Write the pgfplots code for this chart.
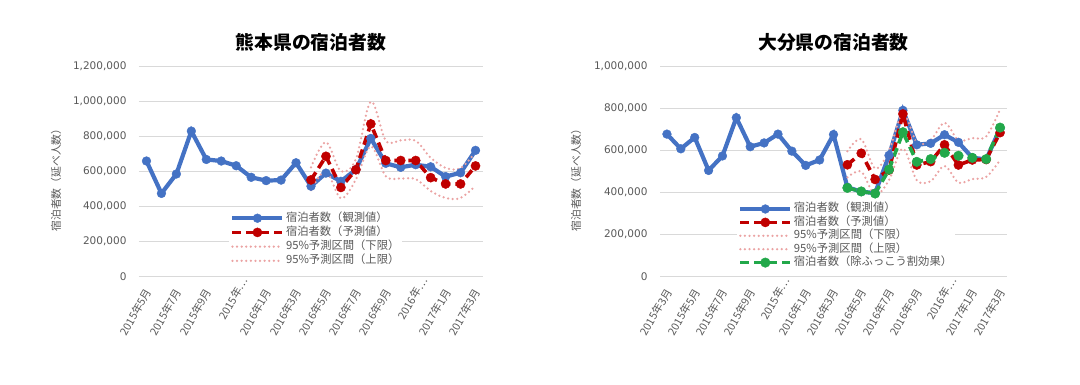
\documentclass[border=0pt]{standalone}
\usepackage{fontspec}
\setmainfont{Noto Sans CJK JP}
\newfontfamily\dv{DejaVu Sans}
\usepackage{pgfplots}
\pgfplotsset{compat=1.18}
\definecolor{cblue}{HTML}{4472C4}
\definecolor{cred}{HTML}{C00000}
\definecolor{cpink}{HTML}{EBA3A3}
\definecolor{cgreen}{HTML}{22A84A}
\definecolor{cgrid}{HTML}{D9D9D9}
\definecolor{ctxt}{HTML}{595959}
\pgfplotsset{
  base/.style={
    scale only axis, height=210pt, ymin=0,
    axis line style={draw=none},
    ymajorgrids, grid style={cgrid, line width=0.8pt},
    major tick length=0pt,
    scaled y ticks=false,
    tick label style={color=ctxt},
    yticklabel style={font=\dv\fontsize{10.5}{12}\selectfont, xshift=-9pt},
    xticklabel style={font=\fontsize{10.8}{12}\selectfont, xshift=4pt, yshift=-10pt, rotate=60, anchor=east},
    ytick distance=200000,
    ylabel style={anchor=center, font=\fontsize{10.8}{12}\selectfont, text=ctxt},
    title style={font=\bfseries\fontsize{18.8}{20}\selectfont, at={(0.5,1)}, anchor=center, yshift=18pt},
    legend cell align=left,
    legend image code/.code={\draw[mark repeat=2,mark phase=2,##1] plot coordinates {(0pt,0pt) (25pt,0pt) (50pt,0pt)};},
    legend style={draw=none, fill=white, anchor=north west, font=\fontsize{11.3}{12}\selectfont, text=ctxt, inner sep=1pt, row sep=0pt},
    /pgf/number format/fixed, /pgf/number format/1000 sep={,}, /pgf/number format/assume math mode=true,
  },
  obs/.style={cblue, line width=4.2pt, mark=*, mark size=4.4pt, mark options={solid, fill=cblue, line width=0.4pt}},
  pred/.style={cred, line width=3.6pt, dash pattern=on 9pt off 5pt, mark=*, mark size=4.6pt, mark options={solid, fill=cred, line width=0.4pt}},
  bnd/.style={cpink, line width=2.5pt, line cap=round, dash pattern=on 0pt off 4.6pt, smooth, tension=0.55, mark=none},
  grn/.style={cgreen, line width=3.6pt, dash pattern=on 9pt off 5pt, mark=*, mark size=4.8pt, mark options={solid, fill=cgreen, line width=0.4pt}},
}
\begin{document}
\begin{tikzpicture}
\path[use as bounding box] (0,0) rectangle (1080pt,384pt);
\begin{axis}[base, width=344pt, at={(139pt,107.3pt)}, anchor=south west,
  xmin=-0.5, xmax=22.5, ymax=1200000,
  xtick={0,2,...,22},
  xticklabels={2015年5月,2015年7月,2015年9月,2015年…\kern-13pt,2016年1月,2016年3月,2016年5月,2016年7月,2016年9月,2016年…\kern-13pt,2017年1月,2017年3月},
  title={熊本県の宿泊者数},
  ylabel={宿泊者数（延べ人数）},
  ylabel style={at={(axis description cs:-0.241,0.472)}},
  legend style={at={(axis description cs:0.262,0.318)}, nodes={inner sep=1.5pt, text height=8.6pt, text depth=2.6pt}},
]
\addplot[obs] coordinates {(0,661000)(1,476000)(2,587000)(3,832000)(4,670000)(5,661000)(6,634000)(7,568000)(8,549000)(9,552000)(10,651000)(11,517000)(12,592000)(13,545000)(14,612000)(15,790000)(16,648000)(17,625000)(18,640000)(19,628000)(20,572000)(21,594000)(22,722000)};
\addlegendentry{宿泊者数（観測値）}
\addplot[pred] coordinates {(11,553000)(12,688000)(13,510000)(14,611000)(15,873000)(16,664000)(17,664000)(18,664000)(19,566000)(20,530000)(21,530000)(22,633000)};
\addlegendentry{宿泊者数（予測値）}
\addplot[bnd] coordinates {(11,495000)(12,603000)(13,448000)(14,555000)(15,745000)(16,574000)(17,561000)(18,558000)(19,490000)(20,450000)(21,450000)(22,520000)};
\addlegendentry{95\%予測区間（下限）}
\addplot[bnd] coordinates {(11,625000)(12,769000)(13,603000)(14,672000)(15,1000000)(16,777000)(17,779000)(18,777000)(19,680000)(20,622000)(21,620000)(22,712000)};
\addlegendentry{95\%予測区間（上限）}
\end{axis}
\begin{axis}[base, width=347pt, at={(660pt,107.3pt)}, anchor=south west,
  xmin=-0.5, xmax=24.5, ymax=1000000,
  xtick={0,2,...,24},
  xticklabels={2015年3月,2015年5月,2015年7月,2015年9月,2015年…\kern-13pt,2016年1月,2016年3月,2016年5月,2016年7月,2016年9月,2016年…\kern-13pt,2017年1月,2017年3月},
  title={大分県の宿泊者数},
  ylabel={宿泊者数（延べ人数）},
  ylabel style={at={(axis description cs:-0.242,0.472)}},
  legend style={at={(axis description cs:0.222,0.36)}, nodes={inner sep=1.5pt, text height=8.1pt, text depth=2.3pt}},
]
\addplot[obs] coordinates {(0,679000)(1,609000)(2,663000)(3,506000)(4,575000)(5,757000)(6,619000)(7,637000)(8,679000)(9,598000)(10,530000)(11,556000)(12,677000)(13,426000)(14,405000)(15,398000)(16,578000)(17,792000)(18,628000)(19,635000)(20,676000)(21,640000)(22,567000)(23,558000)(24,705000)};
\addlegendentry{宿泊者数（観測値）}
\addplot[pred] coordinates {(13,533000)(14,588000)(15,463000)(16,508000)(17,775000)(18,532000)(19,548000)(20,628000)(21,532000)(22,556000)(23,558000)(24,686000)};
\addlegendentry{宿泊者数（予測値）}
\addplot[bnd] coordinates {(13,473000)(14,500000)(15,390000)(16,460000)(17,610000)(18,460000)(19,455000)(20,527000)(21,448000)(22,465000)(23,475000)(24,555000)};
\addlegendentry{95\%予測区間（下限）}
\addplot[bnd] coordinates {(13,597000)(14,655000)(15,515000)(16,600000)(17,780000)(18,640000)(19,650000)(20,733000)(21,650000)(22,660000)(23,668000)(24,797000)};
\addlegendentry{95\%予測区間（上限）}
\addplot[grn] coordinates {(13,423000)(14,406000)(15,396000)(16,510000)(17,688000)(18,547000)(19,560000)(20,590000)(21,576000)(22,566000)(23,560000)(24,710000)};
\addlegendentry{宿泊者数（除ふっこう割効果）}
\end{axis}
\end{tikzpicture}
\end{document}
